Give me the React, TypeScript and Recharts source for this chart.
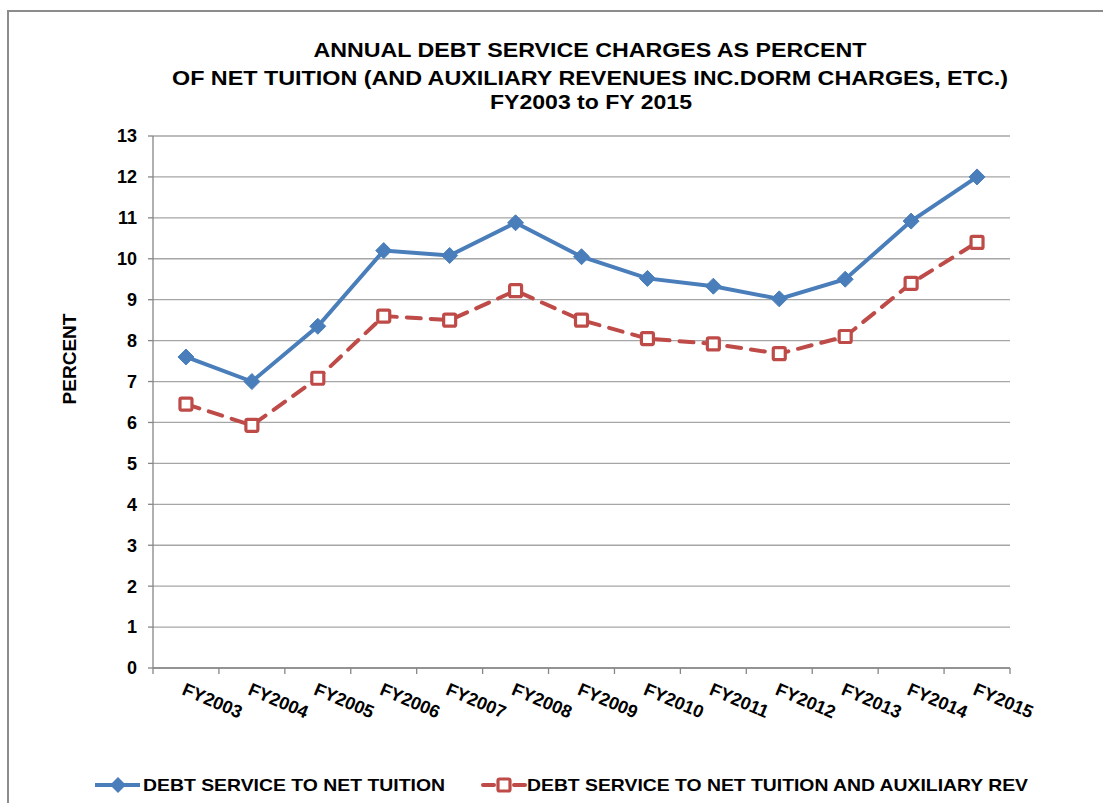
import { LineChart, Line, XAxis, YAxis, CartesianGrid } from "recharts";

const years = [
  "FY2003", "FY2004", "FY2005", "FY2006", "FY2007", "FY2008", "FY2009",
  "FY2010", "FY2011", "FY2012", "FY2013", "FY2014", "FY2015",
];
const netTuition = [7.6, 7.0, 8.35, 10.2, 10.08, 10.88, 10.05, 9.52, 9.33, 9.02, 9.5, 10.92, 12.0];
const tuitionAndAux = [6.45, 5.93, 7.08, 8.6, 8.5, 9.22, 8.5, 8.05, 7.92, 7.68, 8.1, 9.4, 10.4];
const yTicks = [0, 1, 2, 3, 4, 5, 6, 7, 8, 9, 10, 11, 12, 13];
const xTicks = [0, 1, 2, 3, 4, 5, 6, 7, 8, 9, 10, 11, 12, 13];

const W = 1103;
const H = 803;
const MARGIN = { top: 136, right: 93, left: 0, bottom: 0 };
const Y_AXIS_W = 153;
const BAND = (W - MARGIN.left - MARGIN.right - Y_AXIS_W) / years.length;

const BLUE = "#4a7ebb";
const RED = "#be4b48";
const FONT = "'Liberation Sans', Arial, sans-serif";

const data = years.map((label, i) => ({
  x: i + 0.5,
  label,
  tuition: netTuition[i],
  aux: tuitionAndAux[i],
}));

function YearTick({ x, y, payload }: any) {
  const i = Math.round(payload.value);
  if (i >= years.length) return <g />;
  const tx = x + BAND / 2 - 5;
  const ty = y + 18;
  return (
    <text
      x={tx}
      y={ty}
      transform={`rotate(23, ${tx}, ${ty})`}
      textAnchor="start"
      fontFamily={FONT}
      fontWeight="bold"
      fontSize={18}
      fill="#000"
    >
      {years[i]}
    </text>
  );
}

function Diamond({ cx, cy }: any) {
  if (cx == null || cy == null) return null;
  const r = 8;
  return (
    <polygon
      points={`${cx},${cy - r} ${cx + r},${cy} ${cx},${cy + r} ${cx - r},${cy}`}
      fill={BLUE}
      stroke={BLUE}
      strokeWidth={1}
    />
  );
}

function HollowSquare({ cx, cy }: any) {
  if (cx == null || cy == null) return null;
  const s = 12;
  return (
    <rect
      x={cx - s / 2}
      y={cy - s / 2}
      width={s}
      height={s}
      rx={1.5}
      fill="#fff"
      stroke={RED}
      strokeWidth={3.2}
      strokeDasharray="none"
    />
  );
}

export default function App() {
  return (
    <div style={{ position: "absolute", left: 0, top: 0, width: W, height: H, background: "#fff", overflow: "hidden" }}>
      {/* chart area border, cut off at right/bottom like the screenshot */}
      <div
        style={{
          position: "absolute",
          left: 7,
          top: 10,
          width: W,
          height: H,
          borderLeft: "2px solid #8c8c8c",
          borderTop: "2px solid #8c8c8c",
        }}
      />
      <div style={{ position: "absolute", left: 0, top: 0 }}>
        <LineChart width={W} height={H} data={data} margin={MARGIN}>
          <CartesianGrid vertical={false} stroke="#a6a6a6" strokeWidth={1.3} />
          <XAxis
            type="number"
            dataKey="x"
            domain={[0, 13]}
            ticks={xTicks}
            interval={0}
            height={135}
            stroke="#868686"
            strokeWidth={1.3}
            tickSize={6}
            tick={<YearTick />}
          />
          <YAxis
            type="number"
            domain={[0, 13]}
            ticks={yTicks}
            interval={0}
            width={Y_AXIS_W}
            stroke="#868686"
            strokeWidth={1.3}
            tickSize={5}
            tickMargin={11}
            tick={{ fill: "#000", fontSize: 18, fontWeight: "bold", fontFamily: FONT }}
          />
          <Line
            dataKey="tuition"
            stroke={BLUE}
            strokeWidth={4}
            dot={<Diamond />}
            activeDot={false}
            isAnimationActive={false}
          />
          <Line
            dataKey="aux"
            stroke={RED}
            strokeWidth={4}
            strokeDasharray="14 10"
            strokeLinecap="round"
            dot={<HollowSquare />}
            activeDot={false}
            isAnimationActive={false}
          />
        </LineChart>
      </div>
      <svg
        width={W}
        height={H}
        style={{ position: "absolute", left: 0, top: 0, pointerEvents: "none" }}
        fontFamily={FONT}
        fontWeight="bold"
      >
        <text x={590} y={57} textAnchor="middle" fontSize={20} textLength={553} lengthAdjust="spacingAndGlyphs">
          ANNUAL DEBT SERVICE CHARGES AS PERCENT
        </text>
        <text x={590} y={85} textAnchor="middle" fontSize={20} textLength={836} lengthAdjust="spacingAndGlyphs">
          OF NET TUITION (AND AUXILIARY REVENUES INC.DORM CHARGES, ETC.)
        </text>
        <text x={591} y={109} textAnchor="middle" fontSize={20} textLength={202} lengthAdjust="spacingAndGlyphs">
          FY2003 to FY 2015
        </text>

        <text x={76} y={359} textAnchor="middle" fontSize={18} textLength={91} lengthAdjust="spacingAndGlyphs" transform="rotate(-90, 76, 359)">
          PERCENT
        </text>

        {/* legend */}
        <line x1={95} y1={785} x2={140} y2={785} stroke={BLUE} strokeWidth={4} />
        <polygon points="118,777 126,785 118,793 110,785" fill={BLUE} />
        <text x={143} y={791} fontSize={17} textLength={302} lengthAdjust="spacingAndGlyphs">
          DEBT SERVICE TO NET TUITION
        </text>
        <line x1={483} y1={785} x2={525} y2={785} stroke={RED} strokeWidth={4} strokeDasharray="11 20" strokeLinecap="round" />
        <rect x={498} y={779} width={12} height={12} rx={1.5} fill="#fff" stroke={RED} strokeWidth={3.2} />
        <text x={527} y={791} fontSize={17} textLength={501} lengthAdjust="spacingAndGlyphs">
          DEBT SERVICE TO NET TUITION AND AUXILIARY REV
        </text>
      </svg>
    </div>
  );
}
